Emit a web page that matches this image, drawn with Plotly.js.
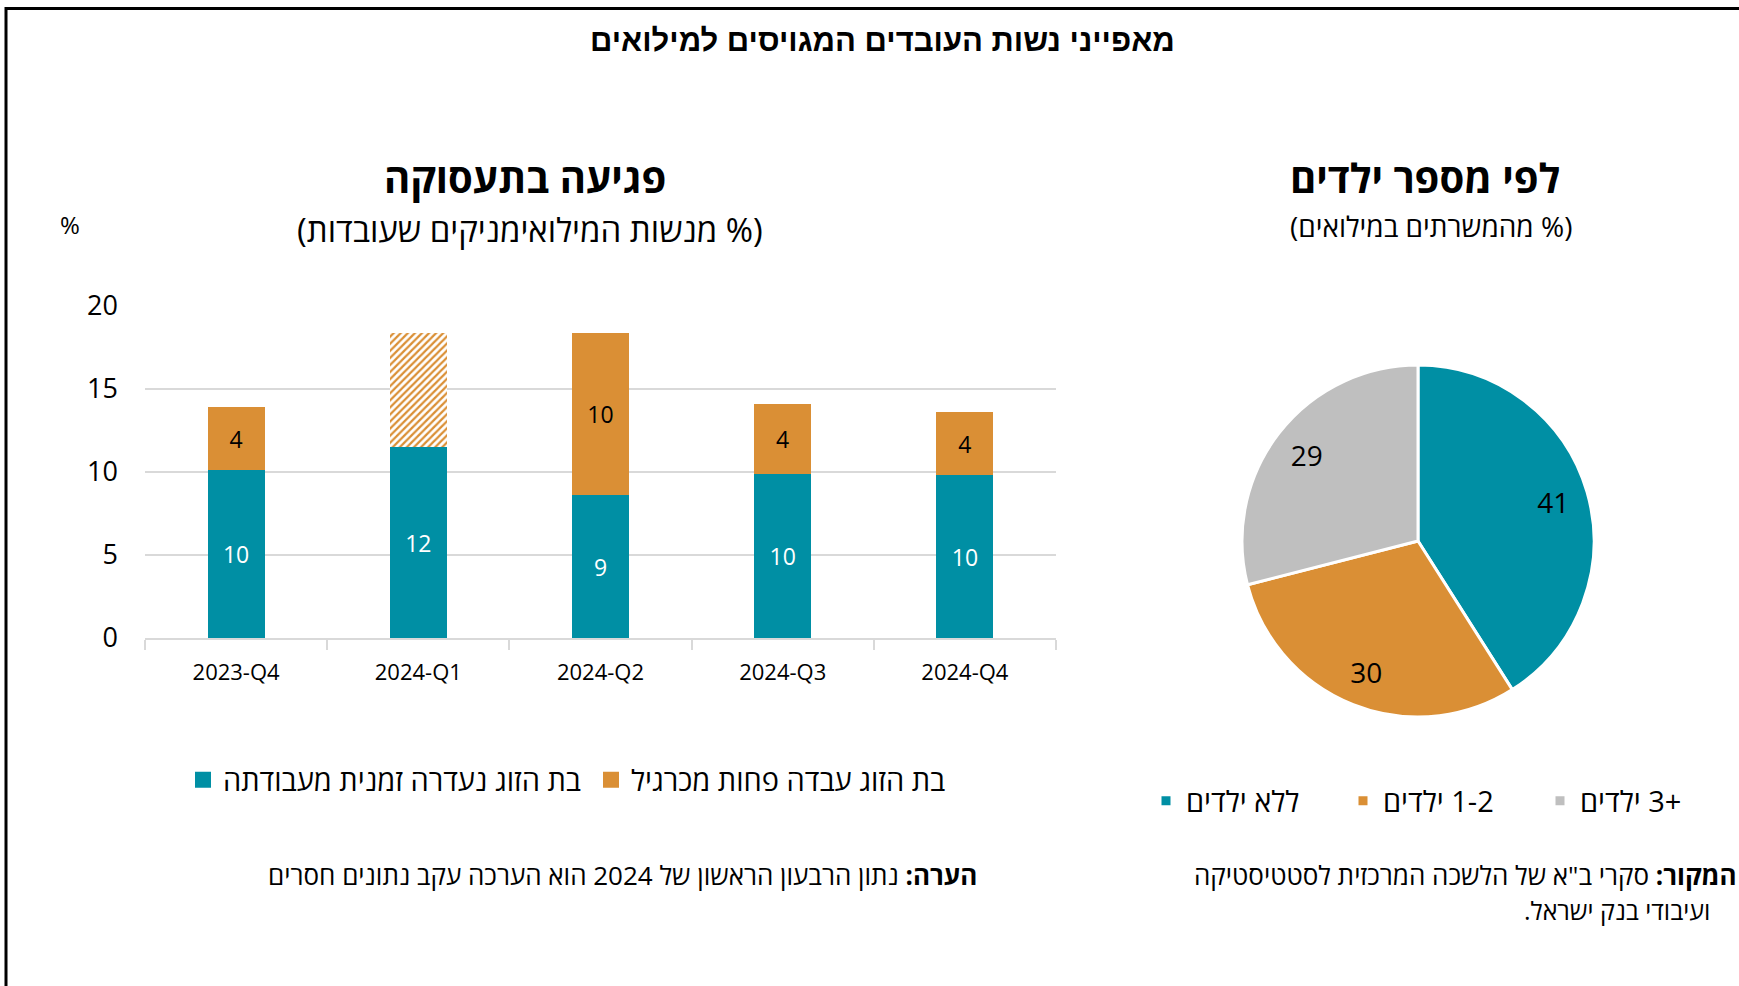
<!DOCTYPE html>
<html>
<head>
<meta charset="utf-8">
<script src="https://cdn.plot.ly/plotly-3.0.1.min.js"></script>
<style>html,body{margin:0;padding:0;background:#fff;}#chart{width:1739px;height:986px;}</style>
</head>
<body>
<div id="chart"></div>
<script>
// ---- data ----
var quarters = ['2023-Q4', '2024-Q1', '2024-Q2', '2024-Q3', '2024-Q4'];
var absentValues = [10.1, 11.5, 8.6, 9.9, 9.8];      // בת הזוג נעדרה זמנית מעבודתה
var lessWorkValues = [3.8, 6.9, 9.8, 4.2, 3.8];      // בת הזוג עבדה פחות מכרגיל
var estimated = [false, true, false, false, false];  // Q1-2024 is an estimate (hatched)
var barSeriesNames = ['בת הזוג נעדרה זמנית מעבודתה', 'בת הזוג עבדה פחות מכרגיל'];

var pieLabels = ['ללא ילדים', '1-2 ילדים', '+3 ילדים'];
var pieValues = [41, 30, 29];

var yTicks = [0, 5, 10, 15, 20];

// ---- helpers ----
var W = 1739, H = 986;
function px(x) { return x / W; }
function py(y) { return 1 - y / H; }
function rtl(s) { return '\u202B' + s + '\u202C'; }

var TEAL = '#008FA4', ORANGE = '#DA8F35', GRAY = '#BFBFBF', GRID = '#D9D9D9';
var FONT = '"Open Sans", "DejaVu Sans", sans-serif';
var pieDomain = { x: [px(1242), px(1594)], y: [py(717), py(365)] };

var traces = [
  {
    type: 'bar', x: quarters, y: absentValues, name: rtl(barSeriesNames[0]),
    marker: { color: TEAL },
    text: absentValues.map(function (v) { return String(Math.round(v)); }),
    textposition: 'inside', insidetextanchor: 'middle', textangle: 0, constraintext: 'none',
    textfont: { color: '#ffffff', size: 23, family: FONT },
    hoverinfo: 'none', legend: 'legend'
  },
  {
    type: 'bar', x: quarters, y: lessWorkValues, name: rtl(barSeriesNames[1]),
    marker: {
      color: ORANGE,
      pattern: {
        shape: estimated.map(function (e) { return e ? '/' : ''; }),
        fgcolor: ORANGE, bgcolor: '#ffffff', size: 5, solidity: 0.45, fillmode: 'replace'
      }
    },
    text: lessWorkValues.map(function (v, i) { return estimated[i] ? '' : String(Math.round(v)); }),
    textposition: 'inside', insidetextanchor: 'middle', textangle: 0, constraintext: 'none',
    textfont: { color: '#000000', size: 23, family: FONT },
    hoverinfo: 'none', legend: 'legend'
  },
  {
    type: 'pie', labels: pieLabels.map(rtl), values: pieValues,
    sort: false, direction: 'clockwise', rotation: 0,
    marker: { colors: [TEAL, ORANGE, GRAY], line: { color: '#ffffff', width: 3 } },
    textinfo: 'none',
    domain: pieDomain,
    hoverinfo: 'none', legend: 'legend2'
  },
  {
    // transparent ring carrying the value labels further out in each slice
    type: 'pie', labels: pieLabels.map(rtl), values: pieValues,
    sort: false, direction: 'clockwise', rotation: 0, hole: 0.6,
    marker: { colors: ['rgba(0,0,0,0)', 'rgba(0,0,0,0)', 'rgba(0,0,0,0)'], line: { width: 0 } },
    textinfo: 'value', textposition: 'inside', insidetextorientation: 'horizontal',
    textfont: { color: '#000000', size: 28, family: FONT },
    domain: pieDomain, showlegend: false,
    hoverinfo: 'none', legend: 'legend2'
  }
];

function ann(text, x, y, size, opts) {
  var a = {
    text: text, x: px(x), y: py(y), xref: 'paper', yref: 'paper',
    showarrow: false, xanchor: 'center', yanchor: 'middle',
    font: { size: size, color: '#000000', family: FONT }
  };
  for (var k in opts) a[k] = opts[k];
  return a;
}

var layout = {
  width: W, height: H,
  margin: { l: 0, r: 0, t: 0, b: 0, autoexpand: false },
  paper_bgcolor: '#ffffff', plot_bgcolor: '#ffffff',
  font: { family: FONT, color: '#000000' },
  barmode: 'stack', bargap: 0.687,
  xaxis: {
    domain: [px(145), px(1056)], type: 'category',
    showline: true, linecolor: GRID, linewidth: 2,
    ticks: 'outside', tickson: 'boundaries', ticklen: 10, tickcolor: GRID, tickwidth: 2,
    tickfont: { size: 22, family: FONT, color: '#000000' },
    showgrid: false, zeroline: false, fixedrange: true, ticklabelstandoff: 14
  },
  yaxis: {
    domain: [py(638), py(306)], range: [0, 20],
    tickvals: yTicks, ticktext: yTicks.map(String),
    tickfont: { size: 27, family: FONT, color: '#000000' },
    showgrid: true, gridcolor: GRID, gridwidth: 2,
    zeroline: false, showline: false, ticks: '', ticklabelstandoff: 26, fixedrange: true
  },
  legend: {
    orientation: 'h', traceorder: 'normal',
    x: px(183), y: py(780), xanchor: 'left', yanchor: 'middle',
    font: { size: 29, family: FONT, color: '#000000' }, entrywidth: 363,
    bgcolor: 'rgba(0,0,0,0)'
  },
  legend2: {
    orientation: 'h', traceorder: 'normal',
    x: px(1146), y: py(801), xanchor: 'left', yanchor: 'middle',
    font: { size: 29, family: FONT, color: '#000000' }, entrywidth: 152,
    bgcolor: 'rgba(0,0,0,0)'
  },
  showlegend: true,
  annotations: [
    ann(rtl('<b>מאפייני נשות העובדים המגויסים למילואים</b>'), 883, 41, 31,
        { font: { size: 31, color: '#000000', family: '"Liberation Sans Narrow", "Liberation Sans", sans-serif' } }),
    ann(rtl('<b>פגיעה בתעסוקה</b>'), 525, 177, 40),
    ann(rtl('(% מנשות המילואימניקים שעובדות)'), 530, 230, 33),
    ann('%', 70, 224, 24),
    ann(rtl('<b>לפי מספר ילדים</b>'), 1425, 177, 40),
    ann(rtl('(% מהמשרתים במילואים)'), 1431, 226, 28),
    ann(rtl('<b>הערה:</b> נתון הרבעון הראשון של 2024 הוא הערכה עקב נתונים חסרים'), 979, 875, 26,
        { xanchor: 'right' }),
    ann(rtl('<b>המקור:</b> סקרי ב"א של הלשכה המרכזית לסטטיסטיקה'), 1739, 875, 26,
        { xanchor: 'right' }),
    ann(rtl('ועיבודי בנק ישראל.'), 1712, 910, 25, { xanchor: 'right' })
  ],
  shapes: [
    { type: 'rect', xref: 'paper', yref: 'paper', x0: px(6), x1: 1.05, y0: -0.05, y1: py(8.5),
      line: { color: '#000000', width: 3 }, fillcolor: 'rgba(0,0,0,0)', layer: 'above' }
  ]
};

Plotly.newPlot('chart', traces, layout, { displayModeBar: false, staticPlot: true }).then(function (gd) {
  // enlarge the bar-legend colour squares to match the reference
  var groups = gd.querySelectorAll('g.infolayer > g');
  groups.forEach(function (g) {
    var cls = g.getAttribute('class') || '';
    var half = null;
    if (cls === 'legend') half = 8;
    else if (cls === 'legend2') half = 6;
    if (half === null) return;
    g.querySelectorAll('.legendpoints path').forEach(function (p) {
      p.setAttribute('d', 'M' + half + ',' + half + 'H-' + half + 'V-' + half + 'H' + half + 'Z');
    });
  });
});
</script>
</body>
</html>
